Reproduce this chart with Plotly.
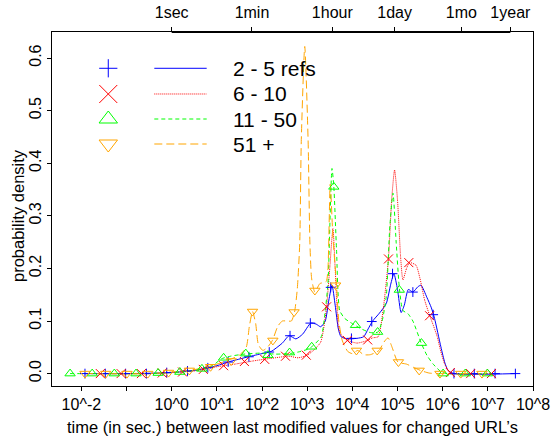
import plotly.graph_objects as go

# Time between Last-Modified values, as log10(seconds); densities on the y axis.

# 2 - 5 refs
blue_exp = [-1.92, -1.0, -0.3, 0.0, 0.5, 1.0, 1.25, 1.7, 2.0, 2.2, 2.45, 2.6, 2.75, 2.9, 3.08, 3.2,
            3.3, 3.4, 3.48, 3.55, 3.62, 3.69, 3.75, 3.9, 4.1, 4.25, 4.35, 4.45, 4.6, 4.75, 4.85,
            4.92, 5.0, 5.08, 5.15, 5.24, 5.34, 5.45, 5.52, 5.65, 5.75, 5.82, 5.96, 6.05, 6.12,
            6.25, 7.62]
blue_den = [0.0, 0.0, 0.001, 0.002, 0.006, 0.015, 0.022, 0.032, 0.038, 0.042, 0.058, 0.072, 0.066,
            0.075, 0.096, 0.094, 0.089, 0.1, 0.14, 0.168, 0.13, 0.085, 0.07, 0.066, 0.067, 0.07,
            0.085, 0.1, 0.115, 0.133, 0.17, 0.19, 0.16, 0.116, 0.13, 0.16, 0.155, 0.165, 0.168,
            0.145, 0.125, 0.105, 0.051, 0.02, 0.006, 0.0, 0.0]
blue_mark_exp = [-1.92, -1.47, -1.02, -0.56, -0.11, 0.35, 0.80, 1.25, 1.71, 2.16, 2.62, 3.07, 3.52,
                 3.98, 4.43, 4.89, 5.34, 5.79, 6.25, 6.70, 7.16, 7.61]
blue_mark_den = [0.0, 0.0, 0.0, 0.0, 0.002, 0.005, 0.011, 0.022, 0.032, 0.041, 0.072, 0.096, 0.164,
                 0.067, 0.099, 0.19, 0.155, 0.112, 0.0, 0.0, 0.0, 0.0]

# 6 - 10
red_exp = [-1.58, -0.5, 0.0, 0.5, 1.0, 1.4, 1.8, 2.2, 2.6, 2.8, 3.0, 3.15, 3.3, 3.42, 3.5, 3.57,
           3.62, 3.7, 3.78, 3.9, 4.1, 4.3, 4.45, 4.57, 4.68, 4.8, 4.87, 4.935, 5.0, 5.07, 5.12,
           5.2, 5.27, 5.41, 5.5, 5.6, 5.71, 5.8, 5.88, 5.95, 6.04, 6.15, 6.25, 7.08]
red_den = [0.0, 0.0, 0.002, 0.005, 0.013, 0.018, 0.024, 0.029, 0.033, 0.03, 0.035, 0.045, 0.06,
           0.12, 0.2, 0.276, 0.2, 0.085, 0.07, 0.063, 0.058, 0.062, 0.068, 0.07, 0.12, 0.219, 0.33,
           0.387, 0.33, 0.22, 0.178, 0.2, 0.211, 0.206, 0.18, 0.14, 0.111, 0.09, 0.07, 0.045,
           0.019, 0.003, 0.0, 0.0]
red_mark_exp = [-1.58, -1.12, -0.67, -0.21, 0.24, 0.70, 1.15, 1.61, 2.06, 2.52, 2.98, 3.43, 3.89,
                4.34, 4.80, 5.25, 5.71, 6.17, 6.62, 7.08]
red_mark_den = [0.0, 0.0, 0.0, 0.001, 0.003, 0.008, 0.015, 0.023, 0.027, 0.033, 0.035, 0.127, 0.063,
                0.064, 0.218, 0.211, 0.11, 0.002, 0.0, 0.0]

# 11 - 50
green_exp = [-2.25, -0.5, 0.0, 0.5, 0.9, 1.1, 1.3, 1.6, 2.0, 2.3, 2.6, 2.8, 3.0, 3.1, 3.31, 3.4,
             3.46, 3.549, 3.59, 3.65, 3.72, 3.83, 4.0, 4.2, 4.4, 4.566, 4.66, 4.75, 4.83, 4.9,
             4.97, 5.045, 5.12, 5.23, 5.34, 5.525, 5.65, 5.78, 5.97, 6.1, 6.99]
green_den = [0.0, 0.0, 0.002, 0.006, 0.015, 0.028, 0.033, 0.037, 0.039, 0.037, 0.038, 0.041, 0.046,
             0.051, 0.07, 0.12, 0.171, 0.39, 0.355, 0.235, 0.12, 0.105, 0.095, 0.085, 0.078, 0.079,
             0.1, 0.146, 0.28, 0.343, 0.25, 0.159, 0.12, 0.114, 0.1, 0.058, 0.035, 0.019, 0.003,
             0.0, 0.0]
green_mark_exp = [-2.25, -1.76, -1.27, -0.79, -0.30, 0.18, 0.67, 1.15, 1.64, 2.13, 2.61, 3.10, 3.59,
                  4.07, 4.56, 5.04, 5.53, 6.01, 6.50, 6.99]
green_mark_den = [0.0, 0.0, 0.0, 0.0, 0.001, 0.003, 0.009, 0.03, 0.038, 0.035, 0.04, 0.051, 0.355,
                  0.092, 0.079, 0.159, 0.058, 0.0, 0.0, 0.0]

# 51 +
orange_exp = [-1.92, -0.5, 0.0, 0.4, 0.85, 1.14, 1.5, 1.65, 1.72, 1.79, 1.86, 1.92, 2.02, 2.12,
              2.23, 2.35, 2.45, 2.55, 2.65, 2.72, 2.78, 2.835, 2.87, 2.946, 3.02, 3.06, 3.1, 3.17,
              3.28, 3.42, 3.46, 3.51, 3.57, 3.65, 3.7, 3.78, 3.9, 4.0, 4.12, 4.25, 4.4, 4.59,
              4.7, 4.79, 4.88, 5.01, 5.2, 5.35, 5.51, 5.7, 5.9, 6.87]
orange_den = [0.0, 0.0, 0.003, 0.006, 0.014, 0.022, 0.035, 0.05, 0.09, 0.118, 0.095, 0.055, 0.044,
              0.05, 0.063, 0.09, 0.1, 0.1, 0.1, 0.117, 0.16, 0.248, 0.445, 0.622, 0.445, 0.25, 0.18,
              0.155, 0.171, 0.175, 0.2, 0.36, 0.26, 0.168, 0.1, 0.062, 0.042, 0.038, 0.044, 0.036,
              0.036, 0.044, 0.06, 0.068, 0.05, 0.022, 0.018, 0.012, 0.006, 0.001, 0.0, 0.0]
orange_mark_exp = [-1.92, -1.46, -0.99, -0.53, -0.07, 0.39, 0.86, 1.32, 1.79, 2.24, 2.71, 3.17,
                   3.63, 4.09, 4.55, 5.02, 5.48, 5.94, 6.40, 6.87]
orange_mark_den = [0.0, 0.0, 0.0, 0.0, 0.002, 0.006, 0.013, 0.024, 0.118, 0.063, 0.117, 0.158,
                   0.168, 0.044, 0.044, 0.022, 0.006, 0.0, 0.0, 0.0]

series_labels = ["2 - 5 refs", "6 - 10", "11 - 50", "51 +"]

# bottom axis: decades of seconds
bottom_tick_exp = [-2, -1, 0, 1, 2, 3, 4, 5, 6, 7, 8]
bottom_tick_text = ["10^-2", "", "10^0", "10^1", "10^2", "10^3", "10^4", "10^5", "10^6",
                    "10^7", "10^8"]
# top axis: familiar durations in seconds
top_tick_sec = [1, 60, 3600, 86400, 2592000, 31536000]
top_tick_text = ["1sec", "1min", "1hour", "1day", "1mo", "1year"]

y_ticks = [0.0, 0.1, 0.2, 0.3, 0.4, 0.5, 0.6]

FONT = "Liberation Sans, Arial, Helvetica, sans-serif"
AXFONT = dict(family=FONT, size=16, color="black")

styles = [
    dict(color="#0000FF", dash="solid", symbol="cross-thin", msize=7, lsize=13),
    dict(color="#FF0000", dash="1px,1px", symbol="x-thin", msize=9, lsize=18),
    dict(color="#00FF00", dash="4px,3px", symbol="triangle-up-open", msize=9, lsize=16),
    dict(color="#FFA500", dash="8px,4px", symbol="triangle-down-open", msize=9, lsize=16),
]

curves = [
    (blue_exp, blue_den, blue_mark_exp, blue_mark_den),
    (red_exp, red_den, red_mark_exp, red_mark_den),
    (green_exp, green_den, green_mark_exp, green_mark_den),
    (orange_exp, orange_den, orange_mark_exp, orange_mark_den),
]


def secs(exps):
    return [10 ** e for e in exps]


fig = go.Figure()

for (cx, cy, mx, my), st in zip(curves, styles):
    fig.add_trace(go.Scatter(
        x=secs(cx), y=cy, mode="lines",
        line=dict(color=st["color"], width=1, dash=st["dash"], shape="spline", smoothing=0.6),
        showlegend=False, hoverinfo="skip"))
for (cx, cy, mx, my), st in zip(curves, styles):
    fig.add_trace(go.Scatter(
        x=secs(mx), y=my, mode="markers",
        marker=dict(symbol=st["symbol"], size=st["msize"], color=st["color"],
                    line=dict(color=st["color"], width=1)),
        showlegend=False, hoverinfo="skip"))

# top axis carrier trace (invisible) so the second x axis is drawn
fig.add_trace(go.Scatter(x=top_tick_sec, y=[0] * len(top_tick_sec), xaxis="x2", mode="markers",
                         marker=dict(opacity=0), showlegend=False, hoverinfo="skip"))

# legend block drawn on its own unit axes laid over the plot area
leg_rows = [0.8975, 0.8249, 0.7542, 0.6836]
leg_marker_x = 0.117
leg_line_x = [0.2127, 0.3216]
leg_text_x = 0.372
for row, st, lab in zip(leg_rows, styles, series_labels):
    fig.add_trace(go.Scatter(
        x=[leg_marker_x], y=[row], xaxis="x3", yaxis="y3", mode="markers",
        marker=dict(symbol=st["symbol"], size=st["lsize"], color=st["color"],
                    line=dict(color=st["color"], width=1)),
        showlegend=False, hoverinfo="skip"))
    fig.add_trace(go.Scatter(
        x=leg_line_x, y=[row, row], xaxis="x3", yaxis="y3", mode="lines",
        line=dict(color=st["color"], width=1, dash=st["dash"]),
        showlegend=False, hoverinfo="skip"))
    fig.add_annotation(x=leg_text_x, y=row, xref="x3", yref="y3", text=lab, showarrow=False,
                       xanchor="left", yanchor="middle",
                       font=dict(family=FONT, size=21, color="black"))

x_range = [-2.65, 8.0]
y_range = [-0.0236, 0.6495]

fig.update_layout(
    width=551, height=439,
    margin=dict(l=52, r=18, t=32, b=53, autoexpand=False),
    paper_bgcolor="white", plot_bgcolor="white",
    font=AXFONT,
    xaxis=dict(type="log", range=x_range, tickmode="array",
               tickvals=secs(bottom_tick_exp), ticktext=bottom_tick_text,
               ticks="outside", ticklen=4, tickcolor="black", showgrid=False, zeroline=False,
               showline=True, linecolor="black", linewidth=1, mirror=True,
               ticklabelstandoff=0, tickfont=AXFONT),
    xaxis2=dict(type="log", range=x_range, overlaying="x", side="top", anchor="y",
                tickmode="array", tickvals=top_tick_sec, ticktext=top_tick_text,
                ticks="outside", ticklen=4, tickcolor="black", showgrid=False, zeroline=False,
                showline=False, ticklabelstandoff=3, tickfont=AXFONT),
    yaxis=dict(range=y_range, tickmode="array", tickvals=y_ticks,
               ticktext=[f"{v:.1f}" for v in y_ticks], tickangle=-90,
               ticks="outside", ticklen=4, tickcolor="black", showgrid=False, zeroline=False,
               showline=True, linecolor="black", linewidth=1, mirror=True,
               tickfont=AXFONT),
    xaxis3=dict(range=[0, 1], overlaying="x", anchor="y3", visible=False),
    yaxis3=dict(range=[0, 1], overlaying="y", anchor="x3", visible=False),
)

# axis line of the top scale, spanning from its first to its last tick
fig.add_shape(type="line", xref="x", yref="paper", x0=top_tick_sec[0], x1=top_tick_sec[-1],
              y0=1, y1=1, line=dict(color="black", width=2))

fig.add_annotation(x=0.5, y=-0.115, xref="paper", yref="paper", showarrow=False,
                   text="time (in sec.) between last modified values for changed URL\u2019s",
                   xanchor="center", yanchor="middle", font=dict(family=FONT, size=16.5))
fig.add_annotation(x=-0.0707, y=0.483, xref="paper", yref="paper", showarrow=False,
                   text="probability density", textangle=-90,
                   xanchor="center", yanchor="middle", font=dict(family=FONT, size=16.5))

fig.write_html("out.html")
